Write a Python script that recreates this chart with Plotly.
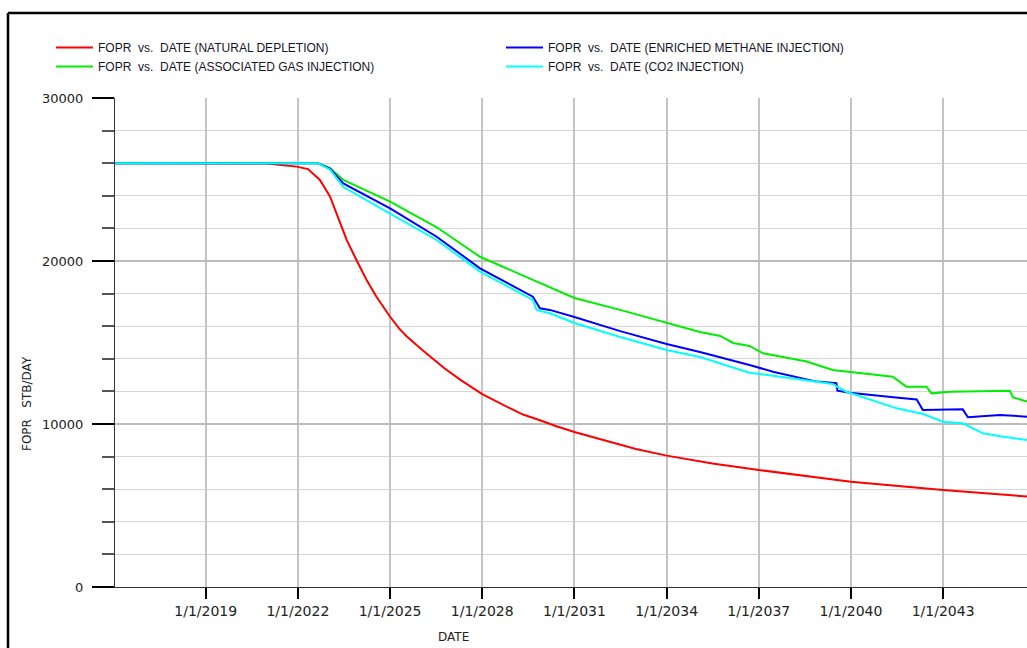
import plotly.graph_objects as go

# ---------------- data ----------------
red_dates = ["2016-01-19", "2020-12-24", "2021-12-17", "2022-05-01", "2022-09-20", "2023-01-19",
             "2023-04-20", "2023-08-04", "2023-11-28", "2024-03-28", "2024-07-23", "2025-01-01",
             "2025-04-20", "2025-07-16", "2026-01-01", "2026-06-28", "2026-10-01", "2027-04-13",
             "2027-08-01", "2028-01-01", "2028-11-24", "2029-05-01", "2029-11-17", "2030-06-01",
             "2031-01-01", "2032-03-03", "2033-01-01", "2034-01-01", "2035-07-01", "2037-01-01",
             "2040-01-01", "2043-01-01", "2045-09-24"]
red_vals = [26000, 25980, 25790, 25640, 24970, 23950,
            22720, 21290, 20060, 18840, 17810, 16580,
            15850, 15380, 14620, 13850, 13450, 12720,
            12330, 11830, 10970, 10580, 10230, 9860,
            9510, 8900, 8470, 8060, 7580, 7180,
            6450, 5950, 5550]

green_dates = ["2016-01-19", "2022-08-25", "2023-01-19", "2023-06-25", "2025-01-01", "2026-07-09",
               "2027-12-06", "2030-03-15", "2031-01-01", "2032-06-28", "2034-01-01", "2035-02-01",
               "2035-10-01", "2036-03-01", "2036-09-12", "2037-02-21", "2038-07-24", "2039-05-30",
               "2041-05-12", "2041-10-20", "2042-06-18", "2042-08-15", "2043-03-22", "2045-03-04",
               "2045-04-09", "2045-09-24"]
green_vals = [26000, 26000, 25700, 24970, 23640, 22070,
              20260, 18420, 17730, 17000, 16200, 15640,
              15400, 14970, 14790, 14340, 13830, 13310,
              12900, 12290, 12290, 11880, 11980, 12040,
              11640, 11370]

blue_dates = ["2016-01-19", "2022-08-25", "2023-01-19", "2023-06-25", "2025-01-01", "2026-07-09",
              "2027-12-06", "2029-08-25", "2029-11-17", "2030-03-15", "2031-01-01", "2032-06-28",
              "2034-01-01", "2035-02-01", "2036-09-12", "2037-06-18", "2038-11-18", "2039-07-13",
              "2039-07-24", "2039-12-20", "2041-05-19", "2042-02-21", "2042-05-05", "2043-08-22",
              "2043-10-23", "2044-11-06", "2045-09-24"]
blue_vals = [26000, 26000, 25650, 24760, 23230, 21490,
             19550, 17810, 17100, 17000, 16560, 15700,
             14910, 14420, 13620, 13210, 12600, 12500,
             12040, 11920, 11640, 11510, 10860, 10900,
             10410, 10550, 10450]

cyan_dates = ["2016-01-19", "2022-08-25", "2023-01-19", "2023-06-25", "2025-01-01", "2026-07-09",
              "2027-06-29", "2027-12-06", "2029-08-25", "2029-10-08", "2030-03-15", "2031-01-01",
              "2032-06-28", "2034-01-01", "2035-02-01", "2036-09-12", "2039-05-30", "2039-07-24",
              "2039-11-10", "2040-04-16", "2041-06-28", "2042-05-08", "2043-01-01", "2043-08-22",
              "2044-04-20", "2044-12-16", "2045-09-24"]
cyan_vals = [26000, 26000, 25600, 24540, 22900, 21290,
             19960, 19350, 17610, 17000, 16790, 16200,
             15340, 14540, 14110, 13150, 12460, 12280,
             11980, 11720, 10960, 10610, 10140, 10040,
             9430, 9220, 9020]

series_names = ["FOPR  vs.  DATE (NATURAL DEPLETION)",
                "FOPR  vs.  DATE (ASSOCIATED GAS INJECTION)",
                "FOPR  vs.  DATE (ENRICHED METHANE INJECTION)",
                "FOPR  vs.  DATE (CO2 INJECTION)"]
series_colors = ["#ff0000", "#00ee00", "#0000ff", "#00ffff"]
legend_ranks = [1, 3, 2, 4]

x_tick_vals = ["2019-01-01", "2022-01-01", "2025-01-01", "2028-01-01", "2031-01-01",
               "2034-01-01", "2037-01-01", "2040-01-01", "2043-01-01"]
x_tick_text = ["1/1/2019", "1/1/2022", "1/1/2025", "1/1/2028", "1/1/2031",
               "1/1/2034", "1/1/2037", "1/1/2040", "1/1/2043"]
y_tick_vals = [0, 10000, 20000, 30000]
y_tick_text = ["0", "10000", "20000", "30000"]
x_range = ["2016-01-19", "2045-09-24"]
y_range = [0, 30000]

# ---------------- figure ----------------
W, H = 1027, 648
L, T, B = 115, 98, 61
PW, PH = W - L, H - T - B

def px_x(p):
    return (p - L) / PW

def px_y(p):
    return (H - B - p) / PH

fig = go.Figure()
all_dates = [red_dates, green_dates, blue_dates, cyan_dates]
all_vals = [red_vals, green_vals, blue_vals, cyan_vals]
for d, v, n, c, r in zip(all_dates, all_vals, series_names, series_colors, legend_ranks):
    fig.add_trace(go.Scatter(x=d, y=v, mode="lines", name=n, legendrank=r,
                             line=dict(color=c, width=2)))

tick_font = dict(family="DejaVu Sans", size=13, color="#222222")

fig.update_layout(
    width=W, height=H,
    margin=dict(l=L, r=0, t=T, b=B, autoexpand=False),
    paper_bgcolor="white", plot_bgcolor="white",
    showlegend=True,
    legend=dict(orientation="h", xref="container", yref="container",
                x=51 / W, y=1 - 33 / H, xanchor="left", yanchor="top",
                entrywidth=398, entrywidthmode="pixels", itemwidth=37,
                font=dict(family="Liberation Sans", size=12, color="#15152a"),
                bgcolor="rgba(0,0,0,0)", tracegroupgap=0),
    xaxis=dict(type="date", range=x_range, tickvals=x_tick_vals, ticktext=x_tick_text,
               showgrid=True, gridcolor="#c4c4c4", gridwidth=2,
               ticks="outside", ticklen=11, tickwidth=2, tickcolor="black",
               showline=True, linecolor="#333333", linewidth=1,
               tickfont=dict(family="DejaVu Sans", size=14, color="#222222"),
               zeroline=False),
    yaxis=dict(range=y_range, tickvals=y_tick_vals, ticktext=y_tick_text,
               showgrid=True, gridcolor="#bbbbbb", gridwidth=2,
               ticks="outside", ticklen=22, tickwidth=2, tickcolor="black",
               ticklabelstandoff=6,
               minor=dict(dtick=2000, ticks="outside", ticklen=12, tickwidth=2,
                          tickcolor="#555555", showgrid=True, gridcolor="#d6d6d6", gridwidth=1),
               showline=True, linecolor="#333333", linewidth=1,
               tickfont=tick_font, zeroline=False),
)

# outer frame (left and top edges)
fig.add_shape(type="line", xref="paper", yref="paper",
              x0=px_x(8), x1=px_x(8), y0=px_y(13), y1=px_y(700),
              line=dict(color="black", width=2.5))
fig.add_shape(type="line", xref="paper", yref="paper",
              x0=px_x(8), x1=px_x(1100), y0=px_y(13), y1=px_y(13),
              line=dict(color="black", width=2.5))

fig.add_annotation(text="DATE", xref="paper", yref="paper", x=px_x(453), y=px_y(637),
                   showarrow=False, xanchor="center", yanchor="middle",
                   font=dict(family="DejaVu Sans", size=12, color="#222222"))
fig.add_annotation(text="FOPR   STB/DAY", xref="paper", yref="paper", x=px_x(27), y=px_y(404),
                   showarrow=False, xanchor="center", yanchor="middle", textangle=-90,
                   font=dict(family="DejaVu Sans", size=12, color="#222222"))

fig.write_html("out.html")
